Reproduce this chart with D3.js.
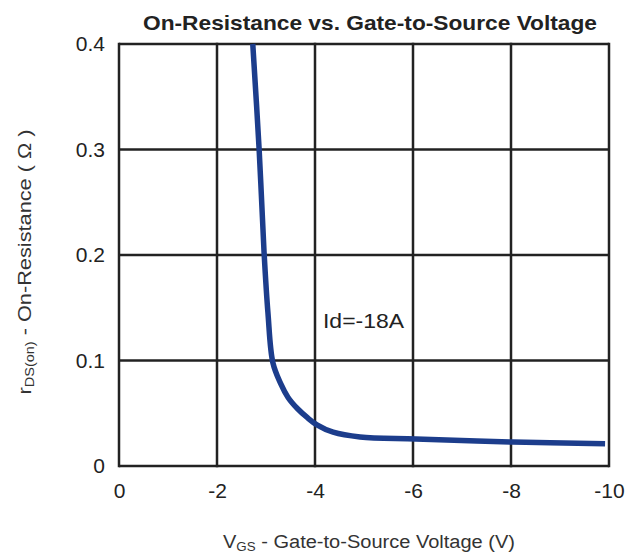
<!DOCTYPE html>
<html><head><meta charset="utf-8">
<script src="https://cdn.jsdelivr.net/npm/d3@7"></script>
<style>body{margin:0;background:#fff}svg{display:block}text{font-family:Arial,"Liberation Sans",sans-serif}</style>
</head><body><div id="chart"></div>
<script>
const vgs = [-2.73, -2.86, -2.96, -3.04, -3.14, -3.3, -3.45, -3.65, -3.84, -4.04, -4.37, -4.92, -6.06, -8.04, -9.92];
const rds = [0.4, 0.3, 0.203, 0.145, 0.098, 0.078, 0.065, 0.054, 0.046, 0.039, 0.032, 0.0275, 0.0256, 0.0227, 0.021];
const xTicks = [0, -2, -4, -6, -8, -10];
const yTicks = [0, 0.1, 0.2, 0.3, 0.4];
const title = "On-Resistance vs. Gate-to-Source Voltage";
const annotation = "Id=-18A";

const W = 643, H = 555;
const m = {left:119, right:34, top:44, bottom:89};
const svg = d3.select("#chart").append("svg").attr("width", W).attr("height", H);
const x = d3.scaleLinear().domain([0, -10]).range([m.left, W - m.right]);
const y = d3.scaleLinear().domain([0, 0.4]).range([H - m.bottom, m.top]);
const ink = "#222";
const ff = "Arial, 'Liberation Sans', sans-serif";

// grid
svg.append("g").selectAll("line").data(xTicks).join("line")
  .attr("x1", d => x(d)).attr("x2", d => x(d)).attr("y1", y(0) + 1.25).attr("y2", y(0.4) - 1.25)
  .attr("stroke", ink).attr("stroke-width", 2.5);
svg.append("g").selectAll("line").data(yTicks).join("line")
  .attr("x1", x(0)).attr("x2", x(-10)).attr("y1", d => y(d)).attr("y2", d => y(d))
  .attr("stroke", ink).attr("stroke-width", 2.5);

// axes labels
const xa = svg.append("g").attr("transform", `translate(0,${y(0)})`)
  .call(d3.axisBottom(x).tickValues(xTicks).tickFormat(d => String(d)).tickSize(0).tickPadding(17));
xa.select(".domain").remove();
xa.selectAll("text").attr("font-size", 21).attr("fill", ink).attr("font-family", ff);
const ya = svg.append("g").attr("transform", `translate(${x(0)},0)`)
  .call(d3.axisLeft(y).tickValues(yTicks).tickFormat(d => d === 0 ? "0" : d3.format(".1f")(d)).tickSize(0).tickPadding(14));
ya.select(".domain").remove();
ya.selectAll("text").attr("font-size", 21).attr("fill", ink).attr("font-family", ff);

// curve
const pts = vgs.map((v, i) => [v, rds[i]]);
svg.append("path").datum(pts)
  .attr("d", d3.line().x(d => x(d[0])).y(d => y(d[1])).curve(d3.curveCatmullRom.alpha(0.5)))
  .attr("fill", "none").attr("stroke", "#1c3d8c").attr("stroke-width", 5.5).attr("stroke-linecap", "butt");

// title
svg.append("text").attr("x", 370).attr("y", 30).attr("text-anchor", "middle")
  .attr("font-size", 21).attr("font-weight", "bold").attr("fill", ink)
  .attr("textLength", 454).attr("lengthAdjust", "spacingAndGlyphs").text(title);

// annotation
svg.append("text").attr("x", 323).attr("y", 328).attr("font-size", 21).attr("fill", ink)
  .attr("textLength", 81).attr("lengthAdjust", "spacingAndGlyphs").text(annotation);

// x label
const xl = svg.append("text").attr("x", 369).attr("y", 548).attr("text-anchor", "middle")
  .attr("font-size", 18).attr("fill", "#333")
  .attr("textLength", 292).attr("lengthAdjust", "spacingAndGlyphs");
xl.append("tspan").text("V");
xl.append("tspan").attr("font-size", 12).attr("dy", 3).text("GS");
xl.append("tspan").attr("dy", -3).text(" - Gate-to-Source Voltage (V)");

// y label
const yl = svg.append("text").attr("transform", "translate(31,262) rotate(-90)").attr("text-anchor", "middle")
  .attr("font-size", 18).attr("fill", "#333")
  .attr("textLength", 265).attr("lengthAdjust", "spacingAndGlyphs");
yl.append("tspan").text("r");
yl.append("tspan").attr("font-size", 12).attr("dy", 3).text("DS(on)");
yl.append("tspan").attr("dy", -3).text(" - On-Resistance ( \u03A9 )");
</script></body></html>
